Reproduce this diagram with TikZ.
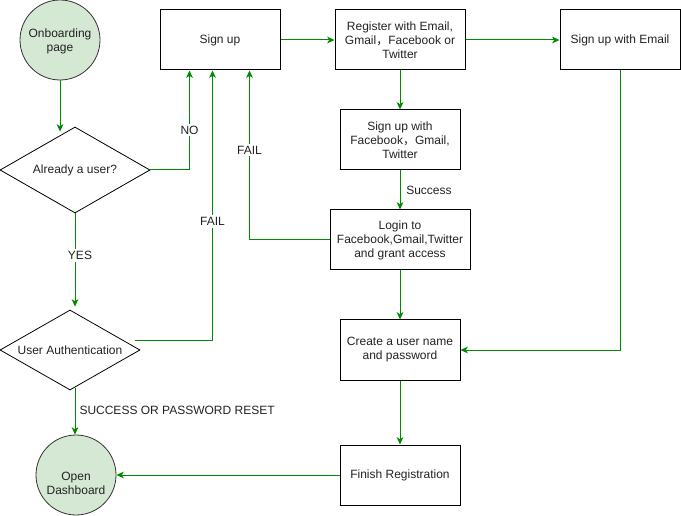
\documentclass[tikz,border=0pt]{standalone}
\usepackage{fontspec}
\setmainfont{Liberation Sans}
\newfontfamily\cjk{Noto Sans CJK SC}
\usetikzlibrary{shapes.geometric,arrows.meta,calc}
\definecolor{flow}{HTML}{008A00}
\definecolor{startfill}{HTML}{D5E8D4}
\definecolor{ink}{HTML}{222222}
\begin{document}
\begin{tikzpicture}[x=0.75pt,y=-0.75pt,
  every node/.style={font=\fontsize{9}{10.5}\selectfont, text=ink, align=center},
  box/.style={draw=black, line width=0.75pt, rectangle, inner sep=2pt,
    minimum width=90pt, minimum height=45pt},
  term/.style={draw=black!80, fill=startfill, circle, minimum size=60pt,
    inner sep=0pt, line width=0.6pt},
  decide/.style={draw=black, diamond, inner sep=0pt, line width=0.6pt},
  flowline/.style={draw=flow, line width=0.75pt,
    -{Stealth[length=5.5pt,width=5pt,inset=1.5pt]}},
  tag/.style={fill=white, inner sep=1.5pt}
]
\useasboundingbox (0,0) rectangle (681,516);

% start / end terminals
\node[term] (onb) at (60,40) {};
\node at ($(onb)+(0,1)$) {Onboarding\\page};
\node[term] (dash) at (76,475) {};
\node at ($(dash)+(0,8)$) {Open\\Dashboard};

% decisions
\node[decide, aspect=1.74, minimum width=112.5pt, minimum height=64.5pt] (already) at (75,170) {Already a user?};
\node[decide, aspect=1.75, minimum width=105pt, minimum height=60pt] (auth) at (70,350) {User Authentication};

% process steps
\node[box] (signup) at (220,40) {Sign up};
\node[box, minimum width=97.5pt] (register) at (400,40) {Register with Email,\\Gmail{\cjk ，}Facebook or\\Twitter};
\node[box] (email) at (620,40) {Sign up with Email};
\node[box] (social) at (400,140) {Sign up with\\Facebook{\cjk ，}Gmail,\\Twitter};
\node[box, minimum width=105pt] (login) at (400,240) {Login to\\Facebook,Gmail,Twitter\\and grant access};
\node[box] (create) at (400,350) {Create a user name\\and password};
\node[box] (finish) at (400,475) {Finish Registration};

% helper points on the shapes
\coordinate (onbIn) at ($(onb.south |- already.north)+(0,5)$);
\coordinate (yesIn) at ($(already.south |- auth.north)+(0,-3)$);
\coordinate (authOut) at ($(auth.east)+(-5,-10)$);
\coordinate (noIn) at ($(signup.south west)+(30,0)$);
\coordinate (failAIn) at ($(signup.south west)+(53,0)$);
\coordinate (failBIn) at ($(signup.south west)+(90,0)$);
\coordinate (okOut) at ($(auth.south)+(5,-2)$);

% connectors
\draw[flowline] (onb.south) -- (onbIn);
\draw[flowline] (already.east) -| (noIn) node[tag, pos=0.70] {NO};
\draw[flowline] (already.south) -- (yesIn) node[tag, pos=0.45, xshift=3.75pt] {YES};
\draw[flowline] (authOut) -| (failAIn) node[tag, pos=0.72] {FAIL};
\draw[flowline] (okOut) -- (okOut |- dash.north)
  node[pos=0.48, right, xshift=1pt, inner sep=2pt] {SUCCESS OR PASSWORD RESET};
\draw[flowline] (signup.east) -- (register.west);
\draw[flowline] (register.east) -- (email.west);
\draw[flowline] (register.south) -- (social.north);
\draw[flowline] (social.south) -- (login.north)
  node[midway, right, xshift=1pt] {Success};
\draw[flowline] (login.west) -| (failBIn) node[tag, pos=0.765] {FAIL};
\draw[flowline] (login.south) -- (create.north);
\draw[flowline] (email.south) |- (create.east);
\draw[flowline] (create.south) -- (finish.north);
\draw[flowline] (finish.west) -- (dash.east);
\end{tikzpicture}
\end{document}
